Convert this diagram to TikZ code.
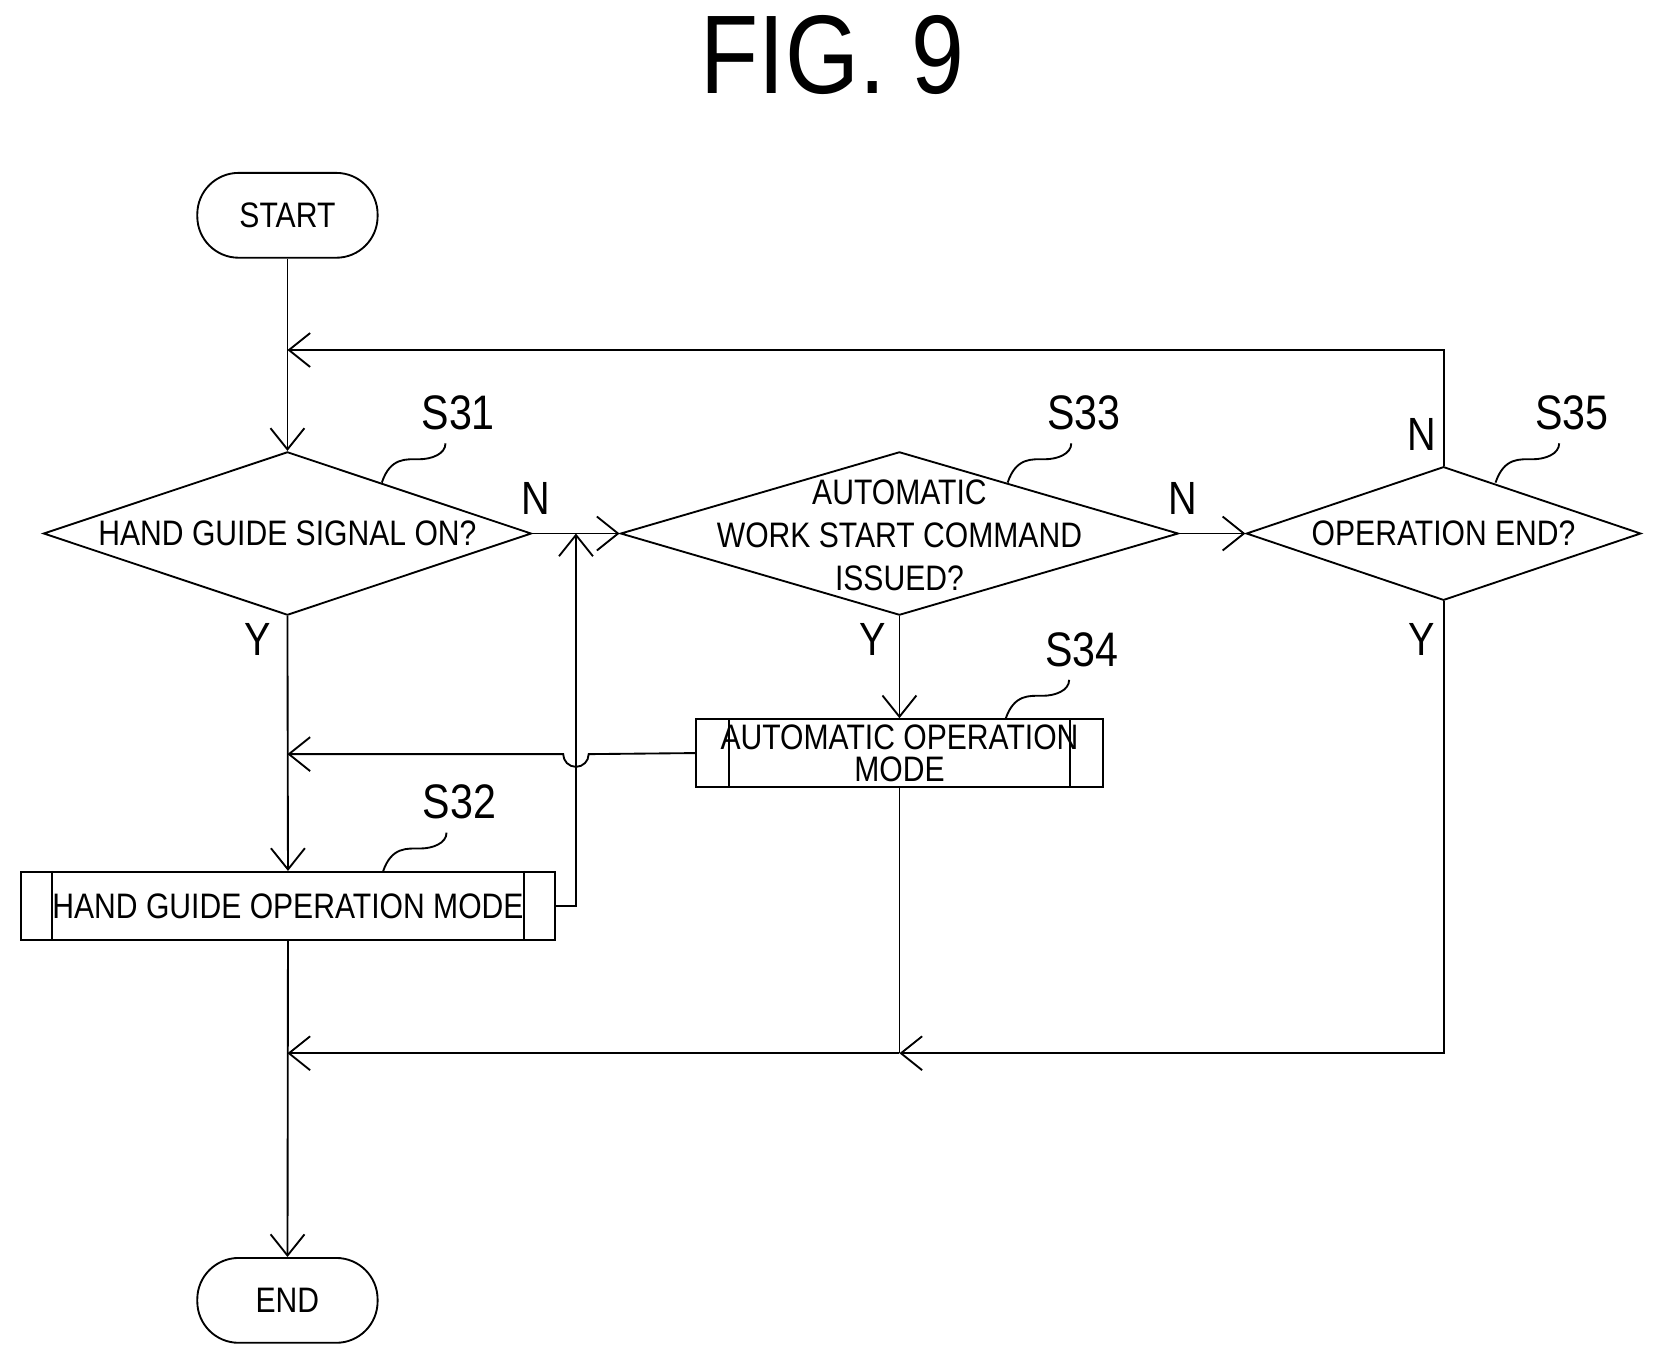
\documentclass[tikz,border=0pt]{standalone}
\usepackage{fontspec}
\setmainfont{Liberation Sans}[FakeStretch=0.85]
\usetikzlibrary{arrows.meta,shapes.geometric,positioning,calc}

\tikzset{
	flow/.style={-{Straight Barb[length=2mm,width=3.2mm]}, line width=0.5pt},
	term/.style={draw, rectangle, rounded corners=3.9mm, minimum width=17mm, minimum height=8mm, font=\fontsize{9.5}{10}\selectfont},
	dia/.style={draw, diamond, inner sep=0pt},
	proc/.style={draw, rectangle, inner sep=0pt, minimum height=6.4mm, font=\fontsize{9.5}{9.5}\selectfont},
	yn/.style={font=\fontsize{12.5}{12.5}\selectfont},
	steplbl/.style={font=\fontsize{13}{13}\selectfont, anchor=south, xshift=1.2mm}
}
\newcommand{\stepmark}[2]{%
	\draw (#1) .. controls +(8,-24) and +(-12,0) .. ++(35,-22)
		.. controls +(12,0) and +(0,10) .. ++(25,-15) node[steplbl] {#2};}

\begin{document}
\begin{tikzpicture}[x=0.1mm, y=-0.1mm, line width=0.5pt]
	\useasboundingbox (0,0) rectangle (1566,1284);
	\node[font=\fontsize{30}{30}\selectfont] (title) at (785,52) {FIG. 9};

	\node[term] (start) at (271,203) {START};
	\node[term] (end) at (271,1226) {END};

	% decisions
	\node[dia, minimum width=46mm, minimum height=15.4mm] (s31) at (271,503) {};
	\node[font=\fontsize{9.5}{9.5}\selectfont] (t31) at (s31) {HAND GUIDE SIGNAL ON?};
	\node[dia, minimum width=52.6mm, minimum height=15.4mm] (s33) at (848,503) {};
	\node[font=\fontsize{9.5}{11.5}\selectfont, align=center] (t33) at (848,505) {AUTOMATIC\\WORK START COMMAND\\ISSUED?};
	\node[dia, minimum width=37.2mm, minimum height=12.6mm] (s35) at (1361,503) {};
	\node[font=\fontsize{9.5}{9.5}\selectfont] (t35) at (s35) {OPERATION END?};

	% processes
	\node[proc, minimum width=50.3mm] (s32) at (271.5,854) {HAND GUIDE OPERATION MODE};
	\node[proc, minimum width=38.4mm, align=center, font=\fontsize{9.5}{8.5}\selectfont] (s34) at (848,710) {AUTOMATIC OPERATION\\MODE};
	\foreach \b/\d in {s32/3, s34/3.2} {
		\draw ([xshift=\d mm]\b.north west) -- ([xshift=\d mm]\b.south west);
		\draw ([xshift=-\d mm]\b.north east) -- ([xshift=-\d mm]\b.south east);
	}

	% helper points
	\coordinate (loop) at (271,330);
	\coordinate (join) at (271,711);
	\coordinate (merge) at (271,993);
	\coordinate (back) at (543,503);

	\draw[flow] (start) -- (s31);
	\draw[flow] (s35.north) |- (loop);
	\draw[flow] (s31.east) -- (s33.west);
	\draw[flow] (s33.east) -- (s35.west);
	\draw[flow] (s33.south) -- (s34.north);
	\draw[flow] (s34.west) -- (555,711) arc[start angle=0, end angle=180, radius=12] -- (join);
	\draw[flow] (s31.south) -- (s32.north);
	\draw[flow] (s32.east) -- (543,854) -- (back);
	\draw (s34.south) -- (848,993);
	\draw[flow] (s35.south) |- (848,993);
	\draw[flow] (848,993) -- (merge);
	\draw[flow] (s32.south) -- (end);

	% Y / N
	\node[yn] (n31) at (505,470) {N};
	\node[yn] (n33) at (1115,470) {N};
	\node[yn] (n35) at (1340,410) {N};
	\node[yn] (y31) at (243,603) {Y};
	\node[yn] (y33) at (823,603) {Y};
	\node[yn] (y35) at (1340,603) {Y};

	% step marks
	\stepmark{360,455}{S31}
	\stepmark{950,455}{S33}
	\stepmark{1410,455}{S35}
	\stepmark{948,678}{S34}
	\stepmark{361,822}{S32}
\end{tikzpicture}
\end{document}
